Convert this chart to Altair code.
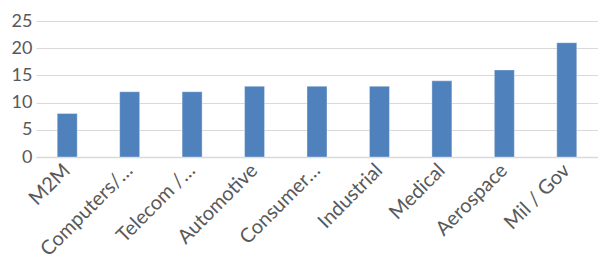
import altair as alt
import pandas as pd

categories = ["M2M", "Computers/…", "Telecom /…", "Automotive", "Consumer…",
              "Industrial", "Medical", "Aerospace", "Mil / Gov"]
values = [8, 12, 12, 13, 13, 13, 14, 16, 21]
y_ticks = [0, 5, 10, 15, 20, 25]

df = pd.DataFrame({"category": categories, "value": values})

FONT = "Lato"
TXT = "#595959"

chart = alt.Chart(df).mark_bar(
    color="#4F81BD", stroke="#FFFFFF", strokeOpacity=0.35, strokeWidth=1
).encode(
    x=alt.X("category:N", sort=categories,
            scale=alt.Scale(paddingInner=0.68, paddingOuter=0.34),
            axis=alt.Axis(title=None, labelAngle=-45, labelAlign="right",
                          labelBaseline="middle", labelPadding=10, ticks=False,
                          domainColor="#D9D9D9", domainWidth=1.5,
                          labelFont=FONT, labelFontSize=20, labelColor=TXT,
                          labelLimit=0)),
    y=alt.Y("value:Q", scale=alt.Scale(domain=[0, 25], nice=False),
            axis=alt.Axis(title=None, values=y_ticks, grid=True,
                          gridColor="#D9D9D9", gridWidth=1.2, domain=False,
                          ticks=False, labelPadding=4, labelFont=FONT,
                          labelFontSize=18, labelColor=TXT)),
).properties(
    width=562, height=136,
    autosize=alt.AutoSizeParams(type="none"),
    padding={"left": 28, "top": 13, "right": 0, "bottom": 103},
).configure_view(stroke=None)

chart.save("out.html", embed_options={"renderer": "svg", "actions": False})
